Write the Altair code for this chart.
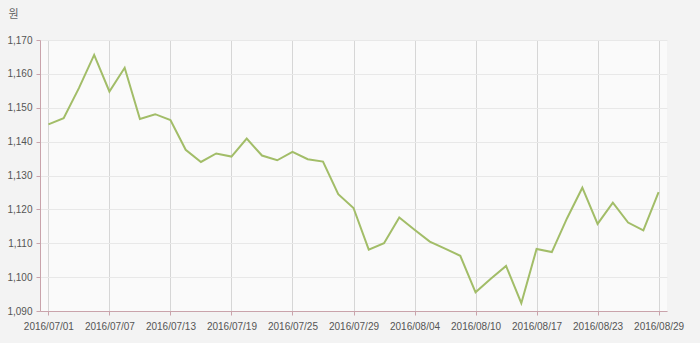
import altair as alt
import pandas as pd

dates = [
    "2016/07/01", "2016/07/04", "2016/07/05", "2016/07/06", "2016/07/07",
    "2016/07/08", "2016/07/11", "2016/07/12", "2016/07/13", "2016/07/14",
    "2016/07/15", "2016/07/18", "2016/07/19", "2016/07/20", "2016/07/21",
    "2016/07/22", "2016/07/25", "2016/07/26", "2016/07/27", "2016/07/28",
    "2016/07/29", "2016/08/01", "2016/08/02", "2016/08/03", "2016/08/04",
    "2016/08/05", "2016/08/08", "2016/08/09", "2016/08/10", "2016/08/11",
    "2016/08/12", "2016/08/16", "2016/08/17", "2016/08/18", "2016/08/19",
    "2016/08/22", "2016/08/23", "2016/08/24", "2016/08/25", "2016/08/26",
    "2016/08/29",
]
rates = [
    1145.1, 1146.9, 1155.8, 1165.6, 1154.8,
    1161.8, 1146.7, 1148.1, 1146.4, 1137.6,
    1134.0, 1136.5, 1135.6, 1140.9, 1135.9,
    1134.5, 1137.0, 1134.8, 1134.1, 1124.5,
    1120.4, 1108.1, 1110.0, 1117.6, 1114.0,
    1110.5, 1108.4, 1106.3, 1095.5, 1099.5,
    1103.3, 1092.3, 1108.3, 1107.4, 1117.4,
    1126.4, 1115.7, 1122.0, 1116.1, 1113.8,
    1125.1,
]
tick_dates = [
    "2016/07/01", "2016/07/07", "2016/07/13", "2016/07/19", "2016/07/25",
    "2016/07/29", "2016/08/04", "2016/08/10", "2016/08/17", "2016/08/23",
    "2016/08/29",
]
y_ticks = [1090, 1100, 1110, 1120, 1130, 1140, 1150, 1160, 1170]
unit_label = "원"

df = pd.DataFrame({"date": dates, "rate": rates})

axis_color = "#c9a3ab"
font = "Liberation Sans"

chart = (
    alt.Chart(df)
    .mark_line(color="#a2bd68", strokeWidth=2)
    .encode(
        x=alt.X(
            "date:N",
            sort=None,
            scale=alt.Scale(type="point", padding=0.55),
            axis=alt.Axis(
                values=tick_dates,
                title=None,
                labelAngle=0,
                labelFont=font,
                labelFontSize=10,
                labelColor="#555555",
                labelPadding=6,
                tickSize=4,
                tickColor=axis_color,
                domainColor=axis_color,
                grid=True,
                gridColor="#d6d6d6",
                labelOverlap=False,
            ),
        ),
        y=alt.Y(
            "rate:Q",
            scale=alt.Scale(domain=[1090, 1170], nice=False, zero=False),
            axis=alt.Axis(
                values=y_ticks,
                format=",.0f",
                title=unit_label,
                titleAngle=0,
                titleX=-32,
                titleY=-26,
                titleAlign="left",
                titleBaseline="middle",
                titleFont="Noto Sans CJK KR",
                titleFontSize=11,
                titleFontWeight="normal",
                titleColor="#666666",
                labelFont=font,
                labelFontSize=10,
                labelColor="#555555",
                labelPadding=4,
                tickSize=4,
                tickColor=axis_color,
                domainColor=axis_color,
                grid=True,
                gridColor="#e8e8e8",
            ),
        ),
    )
    .properties(
        width=627,
        height=271,
        autosize=alt.AutoSizeParams(type="none"),
        padding={"left": 40, "top": 40, "right": 33, "bottom": 32},
        background="#f3f3f3",
    )
    .configure_view(stroke=None, fill="#fafafa")
)

chart.save("out.html", embed_options={"renderer": "svg", "actions": False})
